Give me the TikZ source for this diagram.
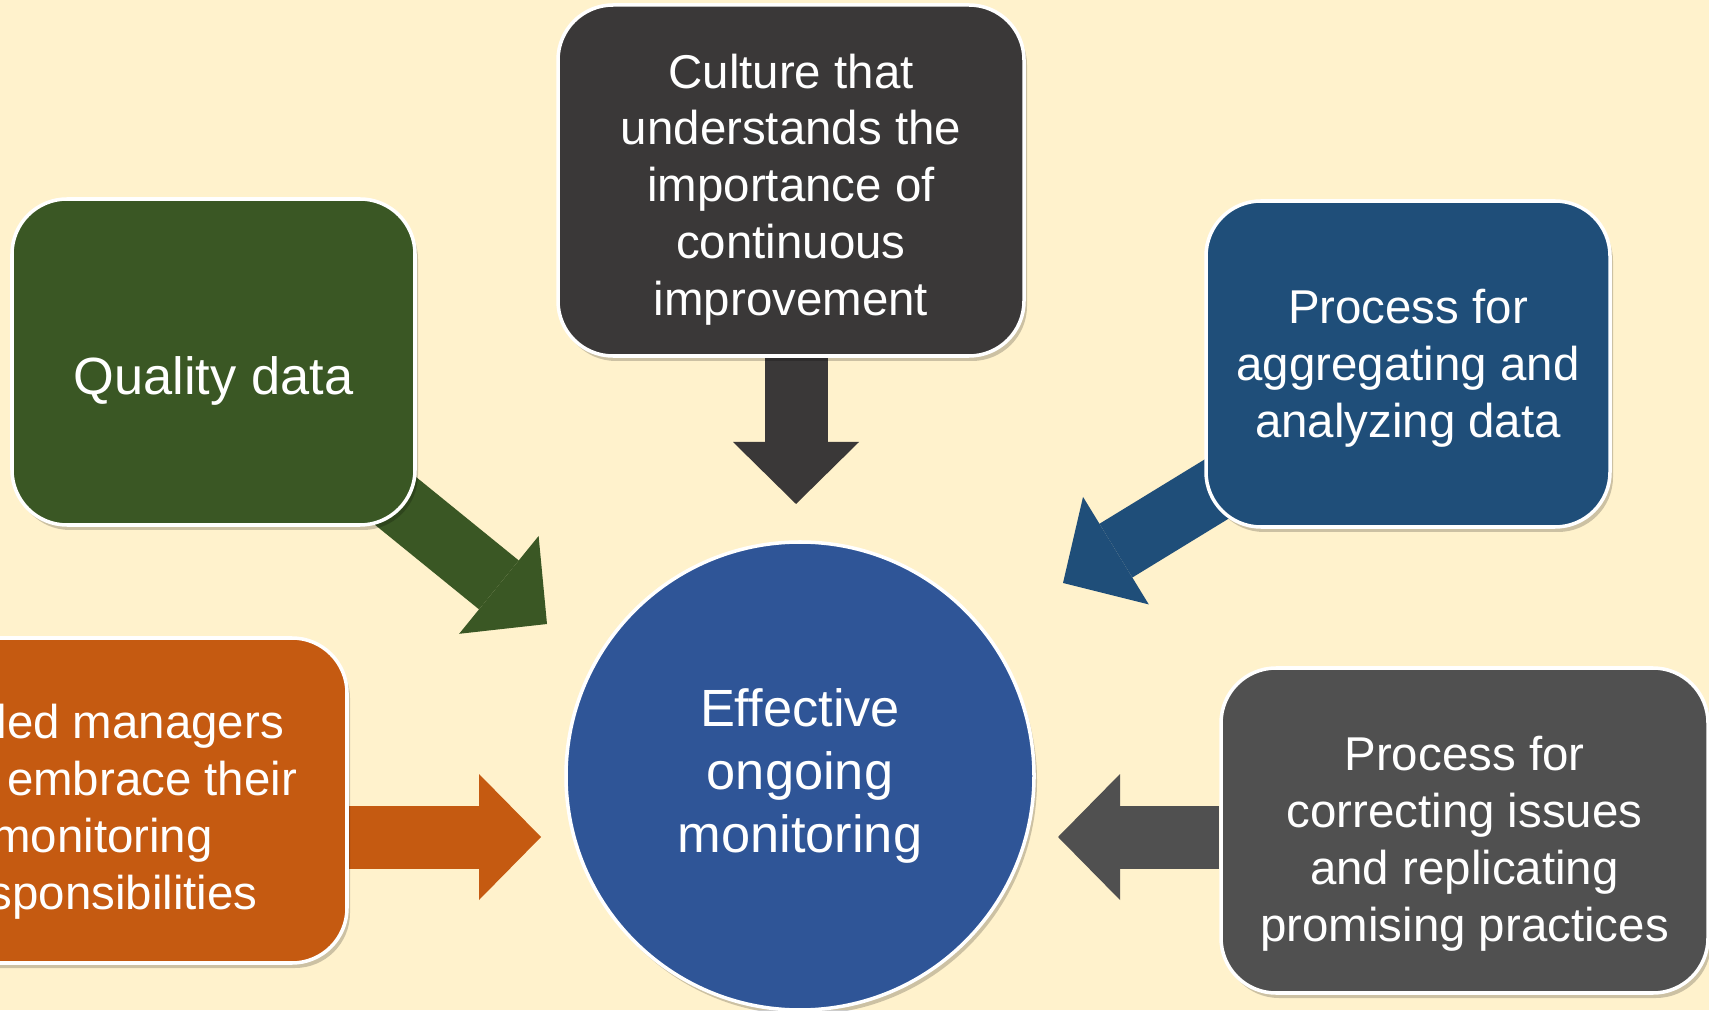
\documentclass[tikz,border=0pt]{standalone}
\usepackage{fontspec}
\setmainfont{Liberation Sans}
\usetikzlibrary{arrows.meta,shadows}

\definecolor{cream}{HTML}{FFF2CC}
\definecolor{qualgreen}{HTML}{3A5724}
\definecolor{culturegrey}{HTML}{3A3838}
\definecolor{aggblue}{HTML}{1F4E79}
\definecolor{hubblue}{HTML}{2F5597}
\definecolor{corrgrey}{HTML}{505050}
\definecolor{mgrorange}{HTML}{C55A11}

\pgfdeclarelayer{back}
\pgfsetlayers{back,main}

% strut that lowers a box text a little
\newcommand{\topgap}[1]{\rule{0pt}{#1}}

\tikzset{
  pillar/.style={rounded corners=0.55cm, draw=white, line width=1pt, text=white,
    align=center, inner sep=0pt, font=\fontsize{13.5}{16.2}\selectfont,
    drop shadow={shadow xshift=0.03cm, shadow yshift=-0.05cm, fill=black, opacity=0.2}},
  feed/.style={line width=6.3mm, -{Triangle[length=6.2mm,width=12.6mm,line width=0pt]}}
}

\begin{document}
\begin{tikzpicture}
            \useasboundingbox (0,0) rectangle (17.09,10.10);
            % boxes round the hub
            \node[pillar, fill=culturegrey, minimum width=4.66cm, minimum height=3.51cm] at (7.91,8.295) (culture)
                {\topgap{15pt}Culture that\\understands the\\importance of\\continuous\\improvement};
            \node[pillar, fill=qualgreen, minimum width=4.03cm, minimum height=3.26cm,
                font=\fontsize{14.9}{17.9}\selectfont] at (2.135,6.48) (quality) {\topgap{21.7pt}Quality data};
            \node[pillar, fill=aggblue, minimum width=4.04cm, minimum height=3.26cm] at (14.08,6.46) (aggregate)
                {\topgap{12.2pt}Process for\\aggregating and\\analyzing data};
            \node[pillar, fill=mgrorange, minimum width=4.90cm, minimum height=3.25cm] at (1.02,2.095) (managers)
                {\topgap{16.1pt}Skilled managers\\who embrace their\\monitoring\\responsibilities};
            \node[pillar, fill=corrgrey, minimum width=4.87cm, minimum height=3.25cm] at (14.645,1.795) (correct)
                {\topgap{17.3pt}Process for\\correcting issues\\and replicating\\promising practices};
            \node[circle, fill=hubblue, draw=white, line width=1pt, minimum size=4.68cm, text=white, align=center,
                font=\fontsize{14.9}{17.9}\selectfont,
                drop shadow={shadow xshift=0.03cm, shadow yshift=-0.05cm, fill=black, opacity=0.2}] at (8.00,2.34) (hub)
                {Effective\\ongoing\\monitoring};
            \coordinate (culturetip) at (7.96,5.06);
            \coordinate (qualitytip) at (5.47,3.86);
            \coordinate (qualitytail) at (3.39,5.55);
            \coordinate (aggregatetip) at (10.63,4.27);
            \coordinate (aggregatetail) at (12.87,5.64);
            \coordinate (managerstip) at (5.41,1.73);
            \coordinate (correcttip) at (10.58,1.73);
            \begin{pgfonlayer}{back}
            \fill[cream] (0,0) rectangle (17.09,10.10);
            \draw[feed, culturegrey] (culture.south -| culturetip) -- (culturetip);
            \draw[feed, qualgreen] (qualitytail) -- (qualitytip);
            \draw[feed, aggblue] (aggregatetail) -- (aggregatetip);
            \draw[feed, mgrorange] (managers.east |- managerstip) -- (managerstip);
            \draw[feed, corrgrey] (correct.west |- correcttip) -- (correcttip);
            \end{pgfonlayer}
        \end{tikzpicture}
\end{document}
